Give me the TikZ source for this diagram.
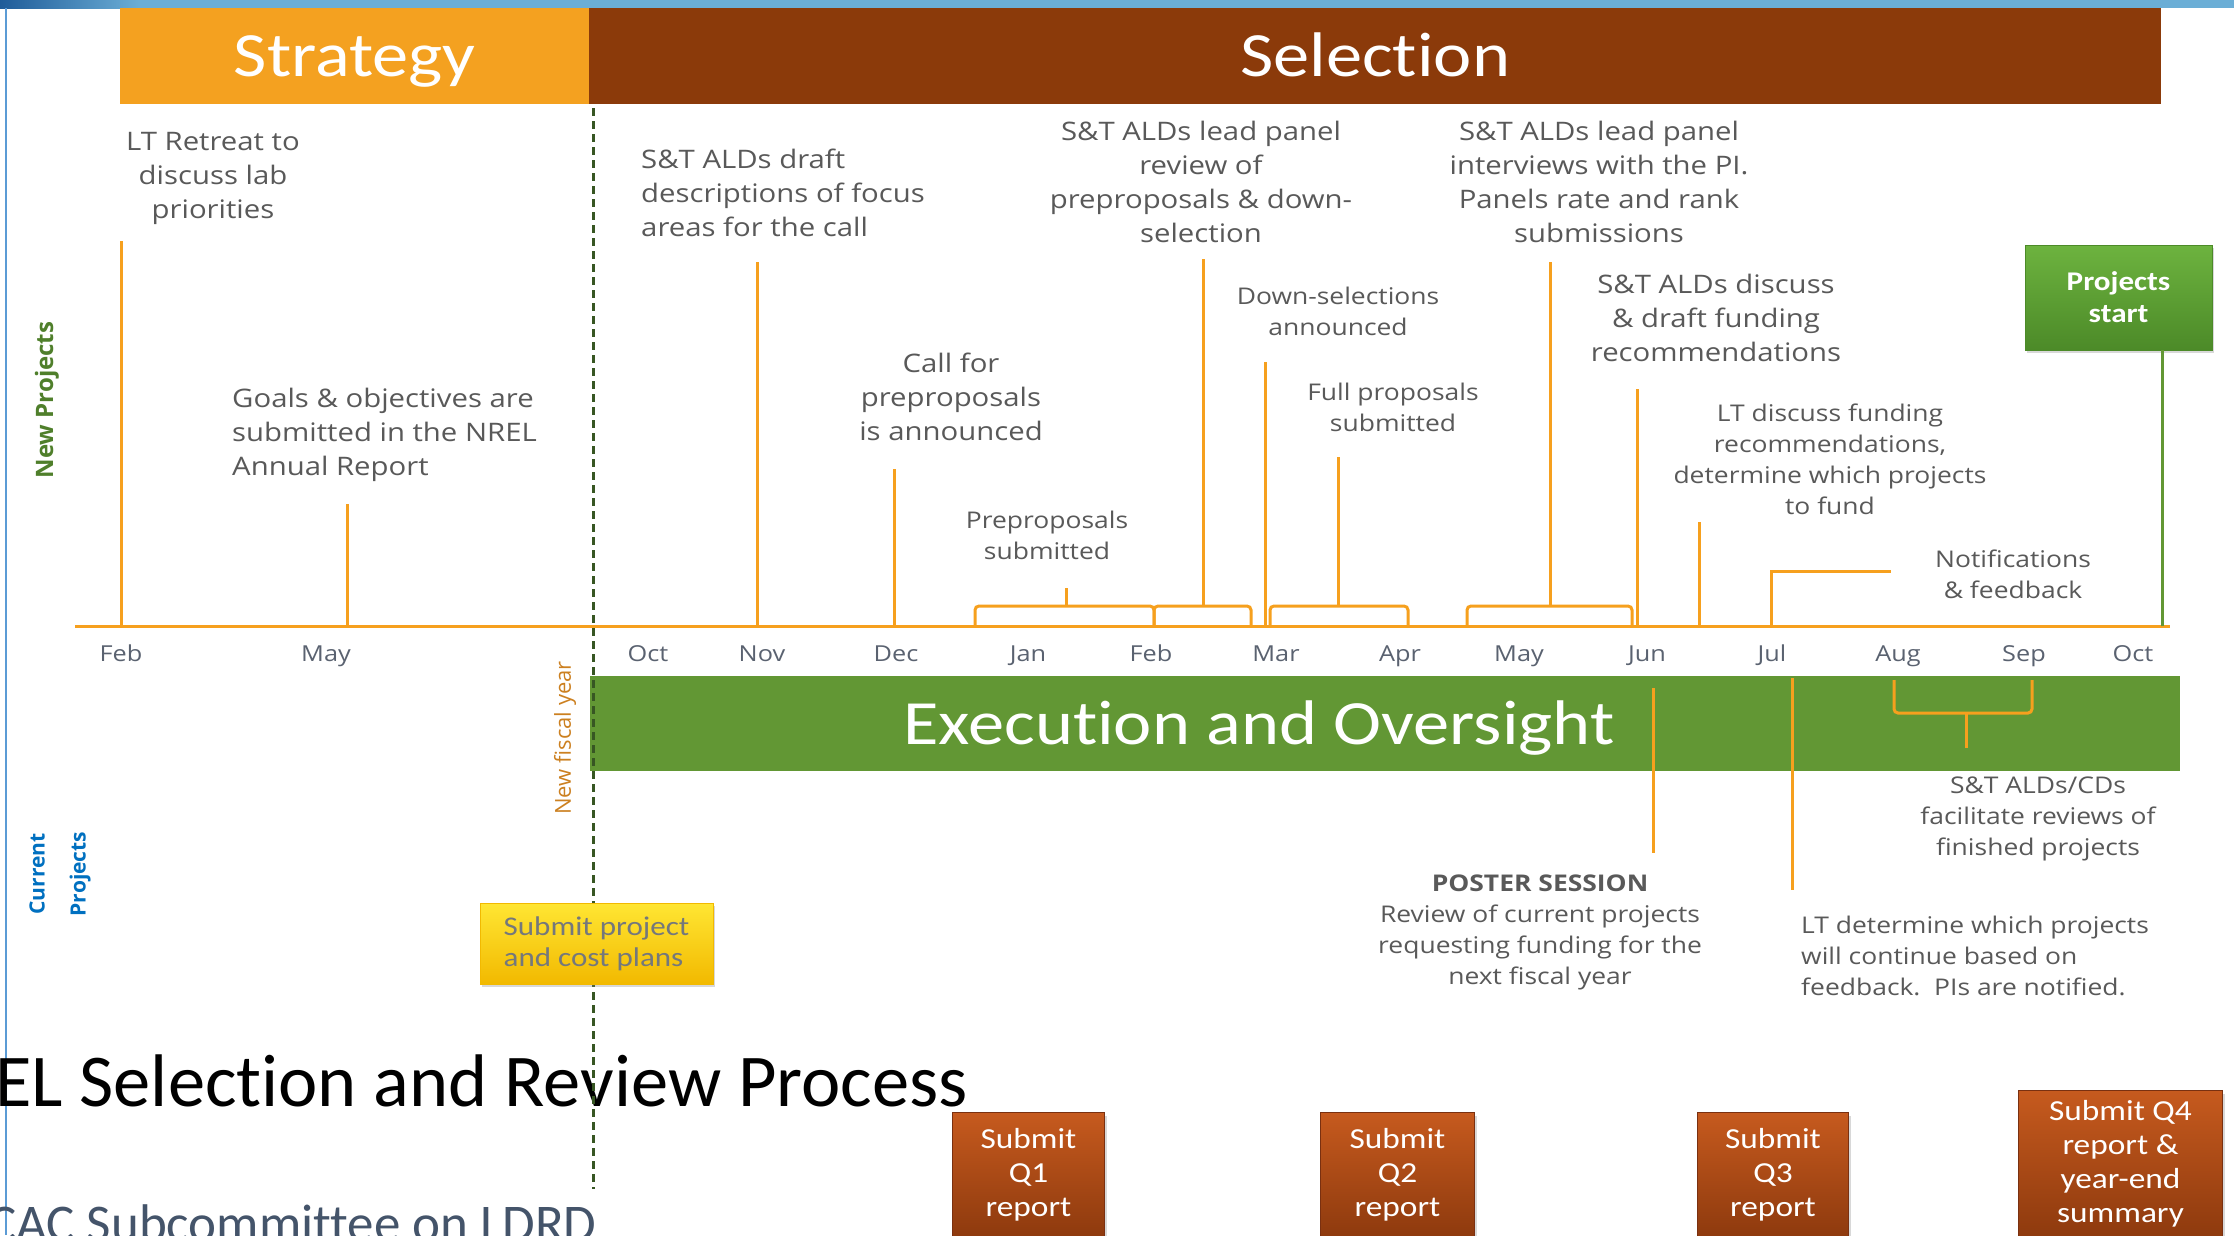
\documentclass[tikz,border=0pt]{standalone}
\usepackage{fontspec}
\setmainfont[FakeStretch=1.15]{Open Sans}
\newfontfamily\headfont[FakeStretch=1.15, Ligatures=NoCommon]{Carlito}
\newfontfamily\plainhead[Ligatures=NoCommon]{Carlito}
\newfontfamily\sidefont{Open Sans}
\usepackage{tikz}
\usetikzlibrary{calc}
\usetikzlibrary{positioning}
\usetikzlibrary{shadows}

\definecolor{bandblue}{HTML}{6BAED6}
\definecolor{banddark}{HTML}{1F5C99}
\definecolor{edgeblue}{HTML}{5B9BD5}
\definecolor{strategyorange}{HTML}{F4A120}
\definecolor{selectionbrown}{HTML}{8B3A0A}
\definecolor{execgreen}{HTML}{629734}
\definecolor{tlorange}{HTML}{F6A01E}
\definecolor{notegray}{HTML}{595959}
\definecolor{monthgray}{HTML}{5A6270}
\definecolor{fiscalgreen}{HTML}{375623}
\definecolor{fiscalorange}{HTML}{CC8020}
\definecolor{newgreen}{HTML}{4F7F2B}
\definecolor{curblue}{HTML}{0070C0}
\definecolor{starttop}{HTML}{6DB33F}
\definecolor{startbot}{HTML}{4C8A28}
\definecolor{reporttop}{HTML}{C65A1E}
\definecolor{reportbot}{HTML}{8E3A0E}
\definecolor{reportedge}{HTML}{7A3010}
\definecolor{plantop}{HTML}{FFE633}
\definecolor{planbot}{HTML}{F2B900}
\definecolor{plantext}{HTML}{74787C}
\definecolor{subtitle}{HTML}{44546A}

\newcommand{\fsz}[2]{\fontsize{#1}{#2}\selectfont}

\begin{document}
\begin{tikzpicture}[x=1pt, y=-1pt,
    phase/.style={rectangle, anchor=north west, inner sep=0pt, text=white, text height=40pt, text depth=0pt, font=\headfont\fsz{63}{70}},
    notebig/.style={text=notegray, align=center, inner sep=0pt, font=\fsz{25.5}{34}},
    notesmall/.style={text=notegray, align=center, inner sep=0pt, font=\fsz{23}{31}},
    month/.style={anchor=base, text=monthgray, inner sep=0pt, font=\fsz{22}{26}},
    orangeline/.style={draw=tlorange, line width=3pt},
    report/.style={rectangle, anchor=north west, draw=reportedge, line width=1pt, top color=reporttop, bottom color=reportbot, text=white, align=center, inner sep=0pt, font=\headfont\fsz{29}{34}, drop shadow={shadow xshift=2pt, shadow yshift=-3pt, opacity=0.3}}]
            \useasboundingbox (0,0) rectangle (2234,1235);
            \clip (0,0) rectangle (2234,1235);
            \fill[white] (0,0) rectangle (2234,1235);
            \fill[bandblue] (0,0) rectangle (2234,8);
            \shade[left color=banddark, right color=bandblue] (0,0) rectangle (140,8);
            \draw[edgeblue, line width=1.5pt] (6,8) -- (6,1235);

            \node[phase, fill=strategyorange, minimum width=469pt, minimum height=96pt] (strategy) at (120,8) {Strategy};
            \node[phase, fill=selectionbrown, minimum width=1572pt, minimum height=96pt] (selection) at (589,8) {Selection};

            \coordinate (axisL) at (75,626);
            \coordinate (axisR) at (2170,626);
            \draw[orangeline] (axisL) -- (axisR);

            \def\months{121/Feb, 326/May, 648/Oct, 762/Nov, 896/Dec, 1028/Jan, 1151/Feb, 1276/Mar, 1400/Apr, 1519/May, 1647/Jun, 1772/Jul, 1898/Aug, 2024/Sep, 2133/Oct}
            \foreach \x/\m [count=\i] in \months
            {
                \node[month] (m\i) at (\x,661) {\m};
            }

            \def\ticks{121/241, 347/504, 757/262, 894/469, 1265/362, 1637/389, 1699/522}
            \foreach \x/\t [count=\i] in \ticks
            {
                \coordinate (tb\i) at (\x,626);
                \coordinate (tt\i) at (\x,\t);
                \draw[orangeline] (tb\i) -- (tt\i);
            }

            \def\braces{975/1066/1154/588, 1154/1203/1251/259, 1270/1338/1408/457, 1467/1550/1632/262}
            \foreach \l/\m/\r/\t [count=\i] in \braces
            {
                \coordinate (bl\i) at (\l,626);
                \coordinate (bm\i) at (\m,606);
                \coordinate (br\i) at (\r,626);
                \coordinate (bt\i) at (\m,\t);
                \draw[orangeline, rounded corners=4pt] (bl\i) |- (bm\i) -| (br\i);
                \draw[orangeline] (bm\i) -- (bt\i);
            }

            \coordinate (jul) at (1771,626);
            \coordinate (notifyend) at (1891,571);
            \draw[orangeline] (jul) |- (notifyend);

            \node[notebig] (retreat) at (213,178.5) {LT Retreat to\\discuss lab\\priorities};
            \node[notebig, align=left, anchor=west] (goals) at (232,434.5) {Goals \& objectives are\\submitted in the NREL\\Annual Report};
            \node[notebig, align=left, anchor=west] (draft) at (641,192.5) {S\&T ALDs draft\\descriptions of focus\\areas for the call};
            \node[notebig] (call) at (951,396.5) {Call for\\preproposals\\is announced};
            \node[notesmall] (presub) at (1047,535.5) {Preproposals\\submitted};
            \node[notebig] (review) at (1201,181.5) {S\&T ALDs lead panel\\review of\\preproposals \& down-\\selection};
            \node[notesmall] (down) at (1338,311) {Down-selections\\announced};
            \node[notesmall] (full) at (1393,407.5) {Full proposals\\submitted};
            \node[notebig] (interview) at (1599,181.5) {S\&T ALDs lead panel\\interviews with the PI.\\Panels rate and rank\\submissions};
            \node[notebig] (discuss) at (1716,318) {S\&T ALDs discuss\\\& draft funding\\recommendations};
            \node[notesmall] (ltfund) at (1830,459.5) {LT discuss funding\\recommendations,\\determine which projects\\to fund};
            \node[notesmall] (notify) at (2013,574) {Notifications\\\& feedback};

            \node[rectangle, draw=startbot, top color=starttop, bottom color=startbot, text=white, align=center, inner sep=0pt,
                minimum width=187pt, minimum height=105pt, font=\headfont\bfseries\fsz{27}{32},
                drop shadow={shadow xshift=2pt, shadow yshift=-3pt, opacity=0.3}] (start) at (2118.5,297.5) {Projects\\start};
            \coordinate (octtick) at (2162,626);
            \draw[draw=execgreen, line width=3pt] (octtick) -- (octtick |- start.south);

            \node[rotate=90, text=newgreen, font=\sidefont\bfseries\fsz{24}{28}] (newproj) at (47,400) {New Projects};
            \node[rotate=90, align=center, text=curblue, font=\sidefont\bfseries\fsz{21}{41}] (curproj) at (60,874) {Current\\Projects};
            \node[rotate=90, text=fiscalorange, font=\sidefont\fsz{22}{26}] (fiscal) at (565,738) {New fiscal year};

            \node[rectangle, anchor=north west, fill=execgreen, minimum width=1590pt, minimum height=95pt, inner sep=0pt] (execution) at (590,676) {};
            \node[phase, anchor=center] (exectext) at (1259,724.5) {Execution and Oversight};

            \coordinate (posterTop) at (1653,688);
            \coordinate (posterBot) at (1653,853);
            \coordinate (contTop) at (1792,678);
            \coordinate (contBot) at (1792,890);
            \draw[orangeline] (posterTop) -- (posterBot);
            \draw[orangeline] (contTop) -- (contBot);
            \coordinate (augArm) at (1894,680);
            \coordinate (revTip) at (1966,713);
            \coordinate (sepArm) at (2032,680);
            \coordinate (revEnd) at (1966,748);
            \draw[orangeline, rounded corners=4pt] (augArm) |- (revTip) -| (sepArm);
            \draw[orangeline] (revTip) -- (revEnd);

            \node[notesmall] (finished) at (2038,819) {S\&T ALDs/CDs\\facilitate reviews of\\finished projects};
            \node[notesmall] (poster) at (1540,932) {\textbf{POSTER SESSION}\\Review of current projects\\requesting funding for the\\next fiscal year};
            \node[notesmall, align=left, anchor=west] (continue) at (1801,956) {LT determine which projects\\will continue based on\\feedback.\ \ PIs are notified.};

            \node[anchor=base west, inner sep=0pt, font=\plainhead\fsz{74.5}{80}] (title) at (-5,1106) {EL Selection and Review Process};
            \node[anchor=base west, inner sep=0pt, text=subtitle, font=\plainhead\fsz{53}{60}] (subtitle) at (-12,1241) {CAC Subcommittee on LDRD};

            \coordinate (fyTop) at (593,108);
            \coordinate (fyBot) at (593,1189);
            \draw[fiscalgreen, line width=3pt, dash pattern=on 8pt off 5pt] (fyTop) -- (fyBot);

            \node[rectangle, draw=planbot, top color=plantop, bottom color=planbot, text=plantext, align=left, inner sep=0pt,
                minimum width=233pt, minimum height=81pt, font=\headfont\fsz{27}{31},
                drop shadow={shadow xshift=2pt, shadow yshift=-3pt, opacity=0.3}] (plans) at (596.5,943.5) {Submit project\\and cost plans};

            \def\reports{952/152/1112/{Submit\\Q1\\report}, 1320/154/1112/{Submit\\Q2\\report}, 1697/151/1112/{Submit\\Q3\\report}, 2018/204/1090/{Submit Q4\\report \&\\year-end\\summary}}
            \foreach \x/\w/\y/\txt [count=\i] in \reports
            {
                \node[report, minimum width=\w pt, minimum height={1236-\y}] (q\i) at (\x,\y) {\txt};
            }
        \end{tikzpicture}
\end{document}
